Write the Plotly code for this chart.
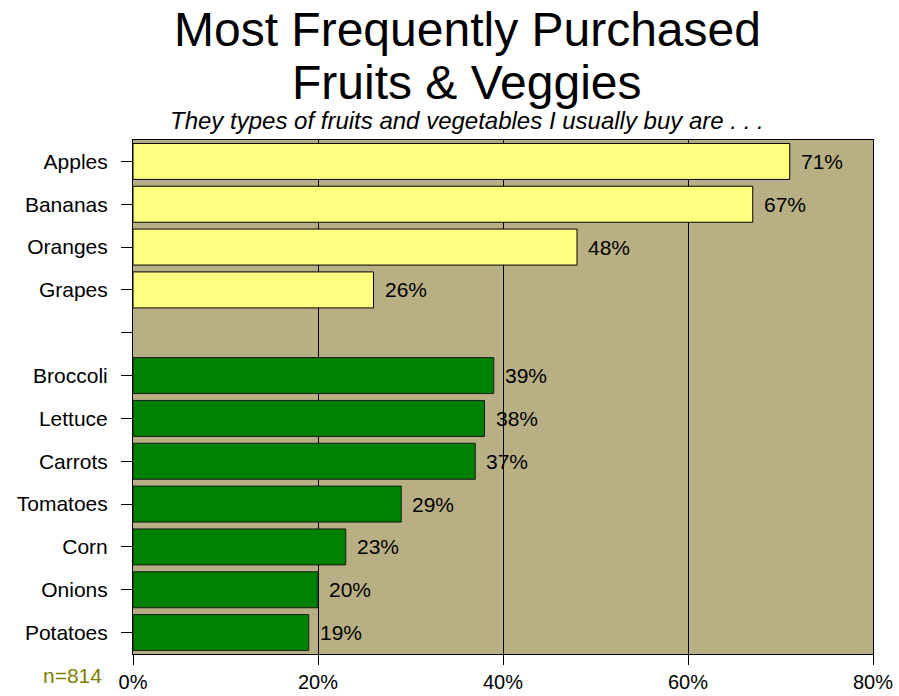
import plotly.graph_objects as go

fruits = ["Apples", "Bananas", "Oranges", "Grapes"]
fruit_pct = [71, 67, 48, 26]
veggies = ["Broccoli", "Lettuce", "Carrots", "Tomatoes", "Corn", "Onions", "Potatoes"]
veggie_pct = [39, 38, 37, 29, 23, 20, 19]
spacer = " "
category_order = fruits + [spacer] + veggies
x_ticks = [0, 20, 40, 60, 80]

FONT = "Liberation Sans, Arial, sans-serif"

fig = go.Figure()
fig.add_trace(go.Bar(
    y=fruits, x=fruit_pct, orientation="h",
    marker=dict(color="#FFFF80", line=dict(color="#000000", width=1)),
    hoverinfo="x+y",
))
fig.add_trace(go.Bar(
    y=veggies, x=veggie_pct, orientation="h",
    marker=dict(color="#008000", line=dict(color="#1a1a1a", width=1)),
    hoverinfo="x+y",
))

# value labels just past each bar end
for cats, vals in ((fruits, fruit_pct), (veggies, veggie_pct)):
    for c, v in zip(cats, vals):
        fig.add_annotation(
            x=v, y=c, text=f"{v}%", showarrow=False,
            xanchor="left", xshift=9,
            font=dict(family=FONT, size=21, color="#000000"),
        )

# two-line heading and italic subheading
fig.add_annotation(
    text="Most Frequently Purchased", xref="paper", yref="paper",
    x=0.452, y=1.0, yshift=82, xanchor="center", yanchor="bottom",
    showarrow=False, font=dict(family=FONT, size=48, color="#000000"),
)
fig.add_annotation(
    text="Fruits & Veggies", xref="paper", yref="paper",
    x=0.452, y=1.0, yshift=29, xanchor="center", yanchor="bottom",
    showarrow=False, font=dict(family=FONT, size=48, color="#000000"),
)
fig.add_annotation(
    text="<i>They types of fruits and vegetables I usually buy are . . .</i>",
    xref="paper", yref="paper", x=0.452, y=1.0, yshift=4,
    xanchor="center", yanchor="bottom", showarrow=False,
    font=dict(family=FONT, size=24, color="#000000"),
)
fig.add_annotation(
    text="n=814", xref="paper", yref="paper", x=-0.039, y=-0.016,
    xanchor="right", yanchor="top", showarrow=False,
    font=dict(family=FONT, size=21, color="#808000"),
)

fig.update_layout(
    width=899, height=696,
    margin=dict(l=133, r=26, t=140, b=42),
    paper_bgcolor="#FFFFFF",
    plot_bgcolor="#B8B084",
    showlegend=False,
    bargap=0.16,
    barmode="overlay",
    xaxis=dict(
        range=[0, 80], tickvals=x_ticks,
        ticktext=[f"{t}%" for t in x_ticks],
        showgrid=True, gridcolor="#000000", gridwidth=1,
        zeroline=False, automargin=False,
        showline=True, linecolor="#000000", linewidth=1, mirror=True,
        ticks="outside", ticklen=10, tickcolor="#000000",
        tickfont=dict(family=FONT, size=20, color="#000000"),
        fixedrange=True,
    ),
    yaxis=dict(
        categoryorder="array", categoryarray=category_order,
        autorange="reversed", automargin=False,
        showgrid=False, zeroline=False,
        showline=True, linecolor="#000000", linewidth=1, mirror=True,
        ticks="outside", ticklen=11, tickcolor="#000000",
        tickfont=dict(family=FONT, size=21, color="#000000"),
        ticklabelstandoff=9,
        fixedrange=True,
    ),
)

fig.write_html("out.html")
